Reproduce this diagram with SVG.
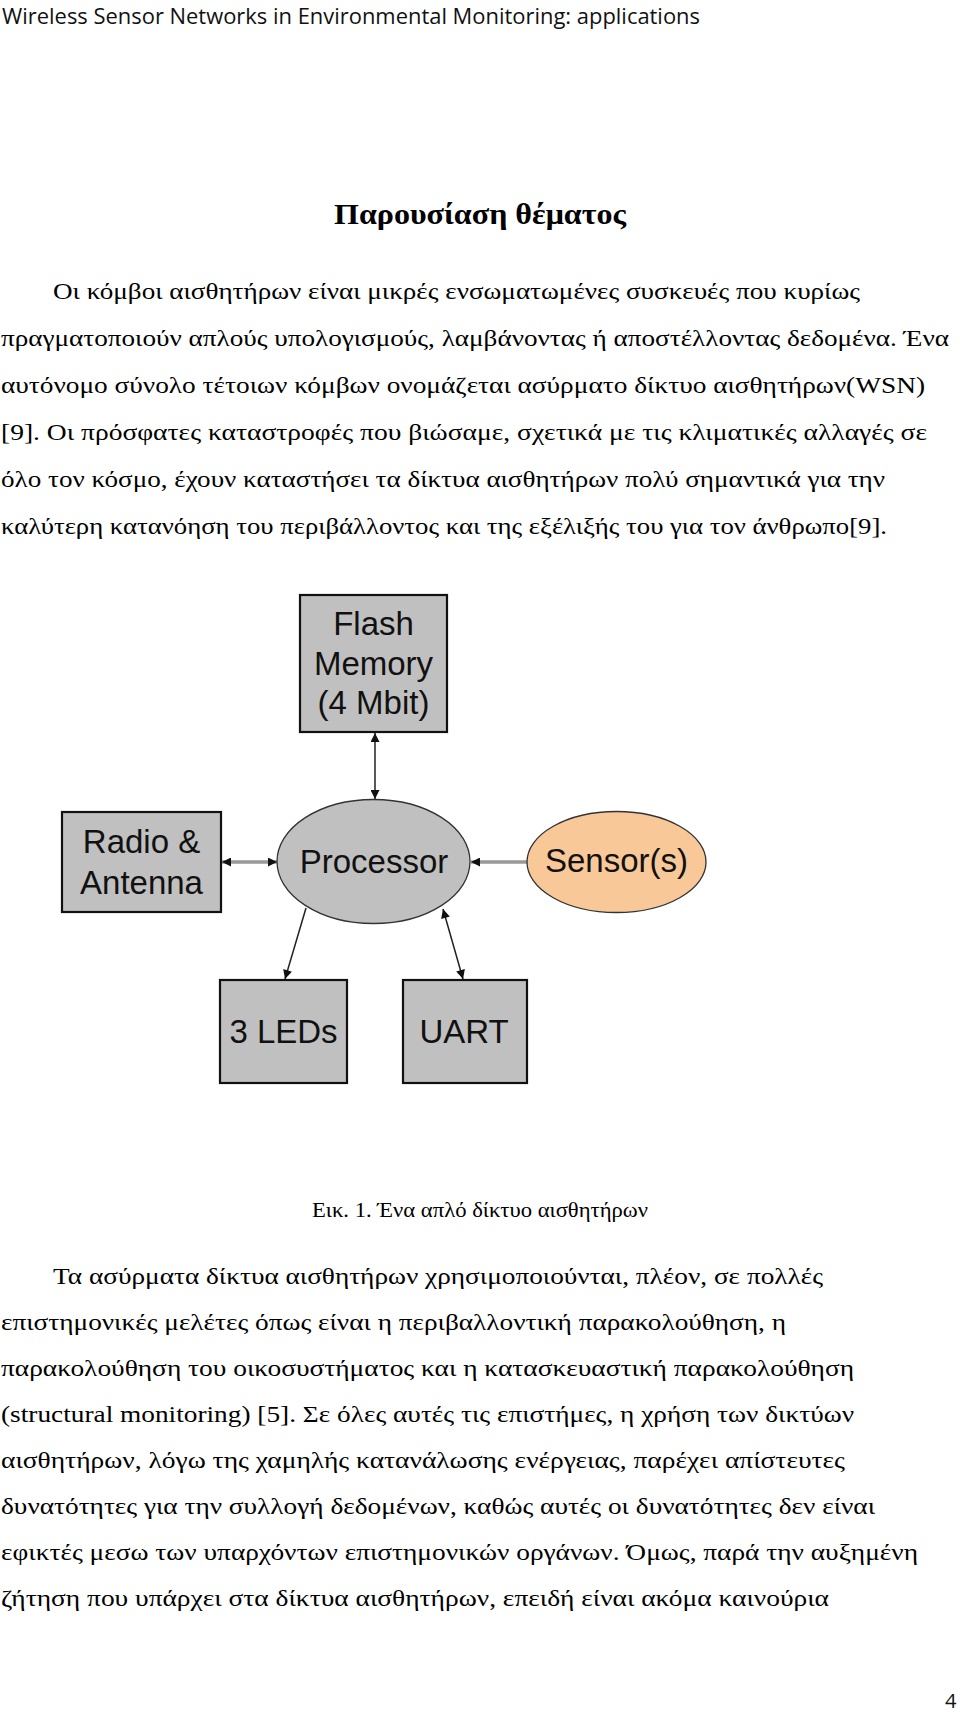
<svg xmlns="http://www.w3.org/2000/svg" width="960" height="1715" viewBox="0 0 960 1715">
<style>
.hdr{font-family:"Open Sans","Liberation Sans",sans-serif;font-size:22px;fill:#111}
.ttl{font-family:"Liberation Serif","Times New Roman",serif;font-size:30px;font-weight:bold;fill:#000}
.body{font-family:"Liberation Serif","Times New Roman",serif;font-size:24px;fill:#000}
.cap{font-family:"Liberation Serif","Times New Roman",serif;font-size:20px;fill:#000}
.lbl{font-family:"Liberation Sans",Arial,sans-serif;font-size:33px;fill:#111;text-anchor:middle}
.box{fill:#c0c0c0;stroke:#111;stroke-width:2.2}
.proc{fill:#c0c0c0;stroke:#333;stroke-width:1.3}
.sens{fill:#f9c898;stroke:#333;stroke-width:1.3}
.thin{stroke:#222;stroke-width:1.5;fill:none}
.thick{stroke:#999;stroke-width:3.5;fill:none}
</style>
<defs>
<marker id="ah" viewBox="0 0 10 10" refX="10" refY="5" markerWidth="10" markerHeight="9" markerUnits="userSpaceOnUse" orient="auto-start-reverse">
<path d="M0,0 L10,5 L0,10 z" fill="#111"/>
</marker>
</defs>
<rect width="960" height="1715" fill="#fff"/>
<text class="hdr" x="2" y="24" textLength="698" lengthAdjust="spacingAndGlyphs">Wireless Sensor Networks in Environmental Monitoring: applications</text>
<text class="ttl" x="334" y="224" textLength="292" lengthAdjust="spacingAndGlyphs">Παρουσίαση θέματος</text>
<g id="para1">
<text class="body" x="53" y="299" textLength="807" lengthAdjust="spacingAndGlyphs">Οι κόμβοι αισθητήρων είναι μικρές ενσωματωμένες συσκευές που κυρίως</text>
<text class="body" x="1" y="346" textLength="948" lengthAdjust="spacingAndGlyphs">πραγματοποιούν απλούς υπολογισμούς, λαμβάνοντας ή αποστέλλοντας δεδομένα. Ένα</text>
<text class="body" x="1" y="393" textLength="924" lengthAdjust="spacingAndGlyphs">αυτόνομο σύνολο τέτοιων κόμβων ονομάζεται ασύρματο δίκτυο αισθητήρων(WSN)</text>
<text class="body" x="1" y="440" textLength="926" lengthAdjust="spacingAndGlyphs">[9]. Οι πρόσφατες καταστροφές που βιώσαμε, σχετικά με τις κλιματικές  αλλαγές σε</text>
<text class="body" x="1" y="487" textLength="884" lengthAdjust="spacingAndGlyphs">όλο τον κόσμο, έχουν καταστήσει τα δίκτυα αισθητήρων πολύ σημαντικά για την</text>
<text class="body" x="1" y="534" textLength="886" lengthAdjust="spacingAndGlyphs">καλύτερη κατανόηση του περιβάλλοντος και της εξέλιξής του για τον άνθρωπο[9].</text>
</g>
<g id="connectors">
<line class="thin" x1="375" y1="733" x2="375" y2="799" marker-start="url(#ah)" marker-end="url(#ah)"/>
<line class="thick" x1="222" y1="862" x2="277" y2="862" marker-start="url(#ah)" marker-end="url(#ah)"/>
<line class="thick" x1="527" y1="862" x2="471" y2="862" marker-end="url(#ah)"/>
<line class="thin" x1="306" y1="908" x2="285" y2="979" marker-end="url(#ah)"/>
<line class="thin" x1="443" y1="909" x2="463" y2="979" marker-start="url(#ah)" marker-end="url(#ah)"/>
</g>
<g id="flash">
<rect class="box" x="300" y="595" width="147" height="137"/>
<text class="lbl" x="373.5" y="635">Flash</text>
<text class="lbl" x="373.5" y="675">Memory</text>
<text class="lbl" x="373.5" y="714">(4 Mbit)</text>
</g>
<g id="radio">
<rect class="box" x="62" y="812" width="159" height="100"/>
<text class="lbl" x="141.5" y="853">Radio &amp;</text>
<text class="lbl" x="141.5" y="894">Antenna</text>
</g>
<g id="processor">
<ellipse class="proc" cx="373.5" cy="861.5" rx="96.5" ry="62"/>
<text class="lbl" x="374" y="873">Processor</text>
</g>
<g id="sensor">
<ellipse class="sens" cx="616.5" cy="862" rx="89.5" ry="50.5"/>
<text class="lbl" x="616.5" y="872">Sensor(s)</text>
</g>
<g id="leds">
<rect class="box" x="220" y="980" width="127" height="103"/>
<text class="lbl" x="283.5" y="1043">3 LEDs</text>
</g>
<g id="uart">
<rect class="box" x="403" y="980" width="124" height="103"/>
<text class="lbl" x="464" y="1043">UART</text>
</g>
<text class="cap" x="312" y="1217" textLength="336" lengthAdjust="spacingAndGlyphs">Εικ. 1. Ένα απλό δίκτυο αισθητήρων</text>
<g id="para2">
<text class="body" x="53" y="1284" textLength="770" lengthAdjust="spacingAndGlyphs">Τα ασύρματα δίκτυα αισθητήρων χρησιμοποιούνται, πλέον, σε πολλές</text>
<text class="body" x="1" y="1330" textLength="785" lengthAdjust="spacingAndGlyphs">επιστημονικές μελέτες όπως είναι η περιβαλλοντική παρακολούθηση, η</text>
<text class="body" x="1" y="1376" textLength="853" lengthAdjust="spacingAndGlyphs">παρακολούθηση του οικοσυστήματος και η κατασκευαστική παρακολούθηση</text>
<text class="body" x="1" y="1422" textLength="853" lengthAdjust="spacingAndGlyphs">(structural monitoring) [5]. Σε όλες αυτές τις επιστήμες, η χρήση των δικτύων</text>
<text class="body" x="1" y="1468" textLength="844" lengthAdjust="spacingAndGlyphs">αισθητήρων, λόγω της χαμηλής κατανάλωσης ενέργειας, παρέχει απίστευτες</text>
<text class="body" x="1" y="1514" textLength="874" lengthAdjust="spacingAndGlyphs">δυνατότητες για την συλλογή δεδομένων, καθώς αυτές οι δυνατότητες δεν είναι</text>
<text class="body" x="1" y="1560" textLength="917" lengthAdjust="spacingAndGlyphs">εφικτές μεσω των υπαρχόντων επιστημονικών οργάνων. Όμως, παρά την αυξημένη</text>
<text class="body" x="1" y="1606" textLength="828" lengthAdjust="spacingAndGlyphs">ζήτηση που υπάρχει στα δίκτυα αισθητήρων, επειδή είναι ακόμα καινούρια</text>
</g>
<text class="hdr" x="945" y="1708" style="font-size:20px">4</text>
</svg>
